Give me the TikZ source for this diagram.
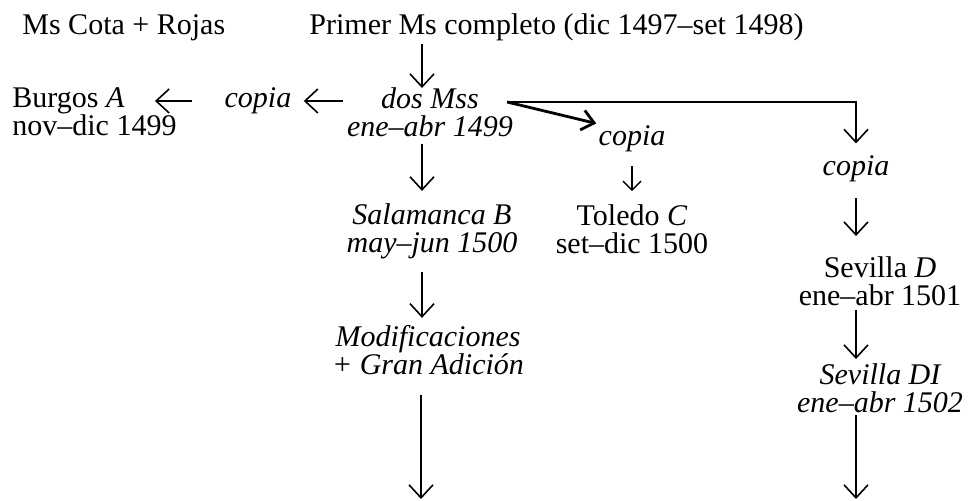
\documentclass[tikz,border=0pt]{standalone}
\usepackage{fontspec}
\setmainfont{Liberation Serif}
\usetikzlibrary{arrows.meta}

\begin{document}
\begin{tikzpicture}[x=0.5pt,y=-0.5pt,
		every node/.style={font=\fontsize{15}{14}\selectfont,inner sep=1pt,align=center},
		arr/.style={line width=0.8pt,-{Straight Barb[length=6.5pt,width=12pt,line width=0.8pt]}},
		arrsmall/.style={line width=0.7pt,-{Straight Barb[length=4.5pt,width=9pt,line width=0.7pt]}},
		arrbold/.style={line width=1.4pt,-{Straight Barb[length=6pt,width=10pt,line width=1.4pt]}}]
	\useasboundingbox (0,0) rectangle (968,501);
	\node[anchor=base west] (cota) at (20,35) {Ms Cota + Rojas};
	\node[anchor=base west] (primer) at (307,35) {Primer Ms completo (dic 1497--set 1498)};
	\node (dosmss) at (430,112) {\itshape dos Mss\\\itshape ene--abr 1499};
	\node (copiaL) at (258,101) {\itshape copia};
	\node[anchor=west,align=left] (burgos) at (10,112) {Burgos \textit{A}\\nov--dic 1499};
	\node (salB) at (432,231) {\itshape Salamanca B\\\itshape may--jun 1500};
	\node (modif) at (428,350) {\itshape Modificaciones\\\itshape + Gran Adición};
	\node (copiaM) at (632,139) {\itshape copia};
	\node (toledo) at (632,229) {Toledo \textit{C}\\set--dic 1500};
	\node (copiaR) at (856,169) {\itshape copia};
	\node (sevD) at (880,281) {Sevilla \textit{D}\\ene--abr 1501};
	\node (sevDI) at (880,388) {\itshape Sevilla DI\\\itshape ene--abr 1502};
	\coordinate (colB) at (422,0);
	\coordinate (split) at (507,102);
	\coordinate (endB) at (421,499);
	\coordinate (endD) at (856,499);

	\draw[arr,shorten >=-1.5pt] (primer.south -| colB) -- (dosmss.north -| colB);
	\draw[arr,shorten <=2.5pt,shorten >=5pt] (dosmss.south -| colB) -- (salB.north -| colB);
	\draw[arr,shorten <=5.5pt,shorten >=2.5pt] (salB.south -| colB) -- (modif.north -| colB);
	\draw[arr,shorten <=9pt] (modif.south -| endB) -- (endB);
	\draw[arr,shorten <=1pt,shorten >=5pt] (dosmss.west |- copiaL) -- (copiaL.east);
	\draw[arr,shorten <=15pt,shorten >=-12pt] (copiaL.west) -- (copiaL.west -| burgos.east);
	\draw[arr,shorten >=5pt] (split) -- (split -| copiaR) -- (copiaR.north);
	\draw[arrbold] (split) -- (copiaM.north west);
	\draw[arrsmall,shorten <=5.5pt,shorten >=5.5pt] (copiaM.south) -- (toledo.north -| copiaM);
	\draw[arr,shorten <=6.5pt,shorten >=9pt] (copiaR.south) -- (sevD.north -| copiaR);
	\draw[arr,shorten <=1pt,shorten >=1pt] (sevD.south -| copiaR) -- (sevDI.north -| copiaR);
	\draw[arr] (sevDI.south -| endD) -- (endD);
\end{tikzpicture}
\end{document}
